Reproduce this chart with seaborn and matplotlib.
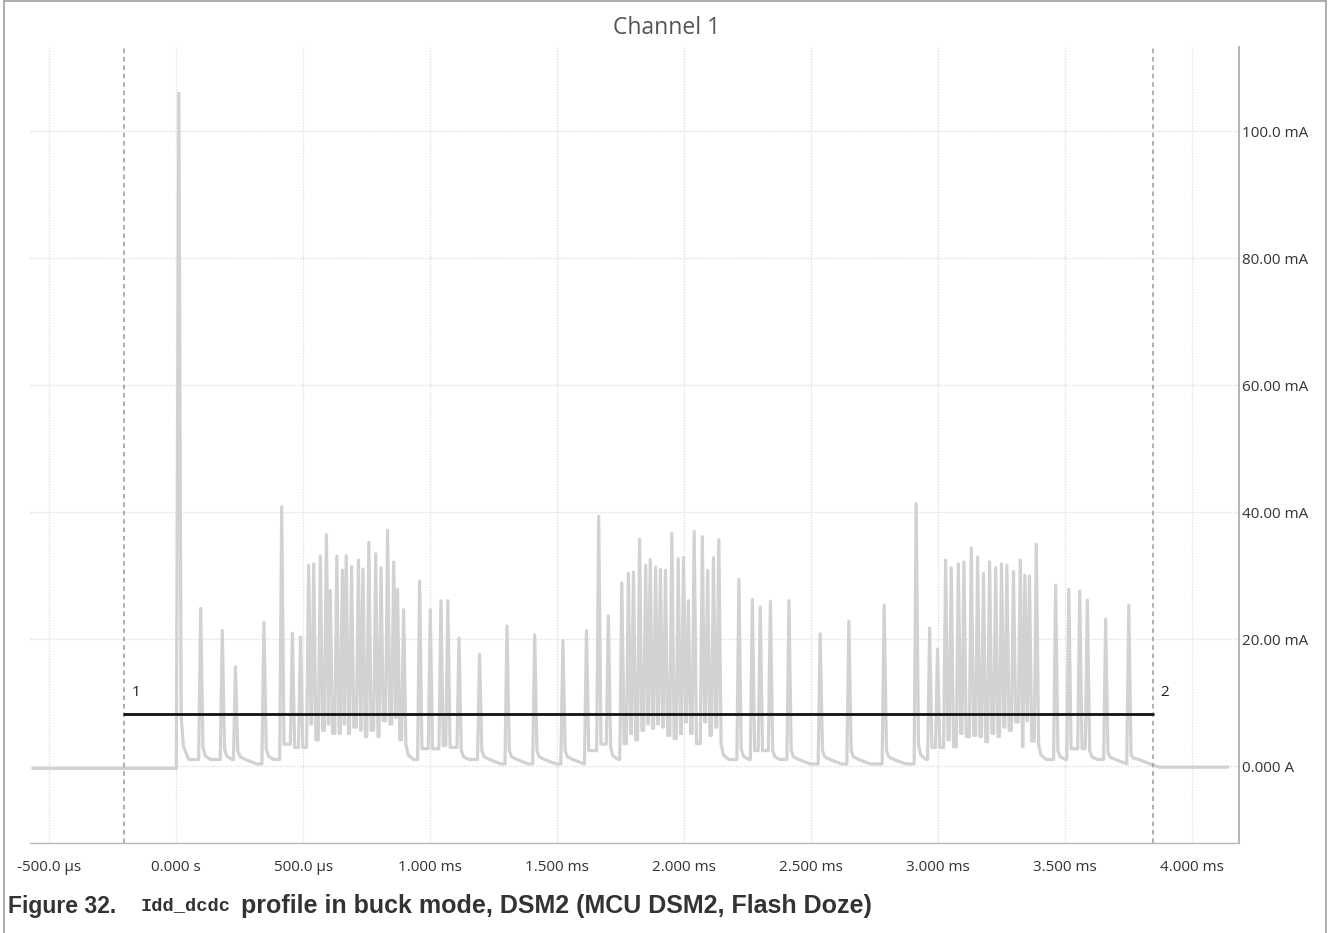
import numpy as np
import pandas as pd
import matplotlib
matplotlib.use('Agg')
import matplotlib.pyplot as plt
import matplotlib.ticker as ticker
from matplotlib.lines import Line2D
import seaborn as sns

# ── Data (time in µs, current in mA) ─────────────────────────────────
spike_t = [10, 96, 181, 233, 345, 415, 457, 489,
           521, 541, 567, 591, 606, 632, 654, 669, 690, 717, 735, 758,
           785, 806, 832, 856, 871, 895,
           958, 1000, 1042, 1069, 1113, 1194, 1302, 1411, 1522, 1615,
           1663, 1701,
           1754, 1780, 1800, 1824, 1848, 1866, 1887, 1906, 1926, 1951,
           1976, 1997, 2016, 2039, 2071, 2092, 2115, 2136,
           2215, 2268, 2299, 2339, 2412, 2535, 2648, 2787,
           2913, 2966, 2997,
           3029, 3051, 3079, 3101, 3130, 3155, 3178, 3202, 3226, 3249,
           3270, 3296, 3323, 3341, 3359, 3386,
           3462, 3514, 3557, 3587, 3659, 3750]
spike_peak = [106.0, 24.9, 21.4, 15.7, 22.7, 40.9, 21.0, 20.4,
              31.7, 31.9, 33.1, 36.5, 27.7, 33.1, 30.9, 33.2, 31.5, 32.5, 31.1, 35.3,
              33.5, 31.3, 37.2, 32.2, 27.9, 24.7,
              29.2, 24.7, 26.1, 26.1, 20.2, 17.7, 22.1, 20.7, 19.8, 21.4,
              39.4, 23.7,
              28.9, 30.4, 30.6, 35.8, 31.7, 32.6, 31.4, 31.0, 30.9, 36.7,
              32.7, 32.9, 26.1, 37.0, 36.2, 30.9, 32.9, 35.7,
              29.5, 26.3, 25.1, 26.0, 26.1, 20.9, 22.9, 25.4,
              41.4, 21.8, 18.5,
              32.5, 31.3, 31.9, 32.2, 34.4, 33.0, 30.4, 32.2, 31.3, 31.9,
              31.7, 30.7, 32.5, 30.1, 30.0, 35.0,
              28.5, 27.9, 27.6, 26.2, 23.2, 25.4]
spike_foot = [8.0, 3.0, 2.8, 2.5, 2.8, 3.5, 3.0, 3.0,
              6.7, 4.2, 5.7, 6.7, 5.2, 5.2, 6.7, 5.2, 6.2, 5.7, 4.7, 5.7,
              4.7, 7.2, 6.7, 7.7, 4.2, 3.5,
              2.8, 2.8, 3.3, 3.0, 2.5, 2.5, 2.5, 2.5, 2.5, 2.5,
              3.5, 3.0,
              3.6, 5.2, 4.2, 5.7, 6.7, 6.0, 6.7, 6.2, 4.9, 4.4,
              5.2, 7.0, 5.2, 3.6, 7.0, 4.9, 6.2, 3.5,
              2.8, 2.5, 2.5, 2.5, 2.5, 2.5, 2.5, 2.5,
              3.5, 3.0, 3.0,
              4.2, 3.1, 5.2, 4.7, 4.9, 4.7, 3.9, 5.2, 4.7, 6.2,
              5.7, 7.0, 3.1, 7.2, 4.0, 3.5,
              2.5, 2.8, 2.8, 2.5, 2.2, 1.8]

trace_start, trace_end = -565, 4140
base_before, base_after = -0.3, -0.1
tail_level = 1.1
rest_level = 0.4
settle_t = 3870

cursor_t = [-207, 3844]
cursor_labels = ["1", "2"]
avg_current = 8.2

x_ticks = [-500, 0, 500, 1000, 1500, 2000, 2500, 3000, 3500, 4000]
x_tick_labels = ["-500.0 µs", "0.000 s", "500.0 µs", "1.000 ms", "1.500 ms",
                 "2.000 ms", "2.500 ms", "3.000 ms", "3.500 ms", "4.000 ms"]
y_ticks = [0, 20, 40, 60, 80, 100]
y_tick_labels = ["0.000 A", "20.00 mA", "40.00 mA", "60.00 mA",
                 "80.00 mA", "100.0 mA"]

# ── Theme ────────────────────────────────────────────────────────────
sns.set_theme(style="white", rc={
    "figure.facecolor": "#ffffff",
    "axes.facecolor": "#ffffff",
    "text.color": "#333333",
    "xtick.color": "#333333",
    "ytick.color": "#333333",
})
plt.rcParams['font.family'] = ['Open Sans', 'DejaVu Sans']

W, H = 1333, 933
fig = plt.figure(figsize=(W / 100, H / 100), dpi=100)
px_l, px_r, px_t, px_b = 30, 1239, 47, 843
ax = fig.add_axes([px_l / W, 1 - px_b / H, (px_r - px_l) / W, (px_b - px_t) / H])

# ── Build trace from spike readings ──────────────────────────────────
RISE, FALL = 8, 9
tt = [trace_start, 0]
ii = [base_before, base_before]
prev = base_before
for k, (t, pk, ft) in enumerate(zip(spike_t, spike_peak, spike_foot)):
    if k > 0:
        tt.append(t - RISE)
        ii.append(prev)
    tt += [t, t + FALL]
    ii += [pk, ft]
    last = k + 1 == len(spike_t)
    nxt = settle_t if last else spike_t[k + 1]
    gap = nxt - t
    if gap > 50:
        # slow tail after an isolated spike
        tt += [t + FALL + 9, t + FALL + 30]
        ii += [tail_level + (ft - tail_level) * 0.3, tail_level]
        if gap > 90:
            tt.append(t + FALL + 75)
            ii.append(rest_level)
            prev = rest_level
        else:
            prev = tail_level
    else:
        prev = ft
tt += [settle_t, trace_end]
ii += [base_after, base_after]
trace = pd.DataFrame({"time": tt, "current": ii})

# ── Grid ─────────────────────────────────────────────────────────────
for xv in x_ticks:
    ax.axvline(xv, color="#e0e0e0", lw=1, ls=(0, (1, 1)), zorder=0)
for yv in y_ticks:
    ax.axhline(yv, color="#e0e0e0", lw=1, ls=(0, (1, 1)), zorder=0)

sns.lineplot(data=trace, x="time", y="current", ax=ax, color="#d2d2d2",
             lw=2.3, estimator=None, sort=False, zorder=2)

# cursors and average line
for ct, lab in zip(cursor_t, cursor_labels):
    ax.axvline(ct, color="#9a9a9a", lw=1.1, ls=(0, (3, 2.5)), zorder=3)
    ax.text(ct + 30, 11.7, lab, fontsize=11, color="#222222",
            ha='left', va='center')
ax.plot(cursor_t, [avg_current, avg_current], color="#111111", lw=2.0, zorder=4)

ax.set_xlim(-576, 4184)
ax.set_ylim(-12.05, 113.3)
ax.xaxis.set_major_locator(ticker.FixedLocator(x_ticks))
ax.set_xticklabels(x_tick_labels)
ax.yaxis.set_major_locator(ticker.FixedLocator(y_ticks))
ax.set_yticklabels(y_tick_labels)
ax.yaxis.tick_right()
ax.tick_params(axis='both', length=0, labelsize=11)
ax.tick_params(axis='x', pad=12)
ax.tick_params(axis='y', pad=2)
ax.set_xlabel("")
ax.set_ylabel("")
for s in ("top", "left"):
    ax.spines[s].set_visible(False)
ax.spines["right"].set_color("#a8a8a8")
ax.spines["bottom"].set_color("#b8b8b8")
ax.spines["right"].set_linewidth(1.2)
ax.spines["bottom"].set_linewidth(1.0)

fig.text(0.5, 1 - 28 / H, "Channel 1", ha='center', va='center',
         fontsize=16.5, color="#555555")

# ── Figure border ────────────────────────────────────────────────────
for xs, ys in (([4 / W, 4 / W], [0, 1 - 1 / H]),
               ([4 / W, 1326 / W], [1 - 1 / H, 1 - 1 / H]),
               ([1326 / W, 1326 / W], [0, 1 - 1 / H])):
    fig.add_artist(Line2D(xs, ys, transform=fig.transFigure,
                          color="#a0a0a0", lw=1.2))

# ── Caption ──────────────────────────────────────────────────────────
cap_y = 1 - 906 / H
fig.text(8 / W, cap_y, "Figure 32.", family=['Liberation Sans'], weight='bold',
         fontsize=16.5, color="#333333", ha='left', va='center')
fig.text(141 / W, cap_y, "Idd_dcdc", family=['Liberation Mono'], weight='bold',
         fontsize=13.5, color="#333333", ha='left', va='center')
fig.text(241 / W, cap_y, "profile in buck mode, DSM2 (MCU DSM2, Flash Doze)",
         family=['Liberation Sans'], weight='bold', fontsize=18,
         color="#333333", ha='left', va='center')

fig.savefig("out.png", dpi=100)
